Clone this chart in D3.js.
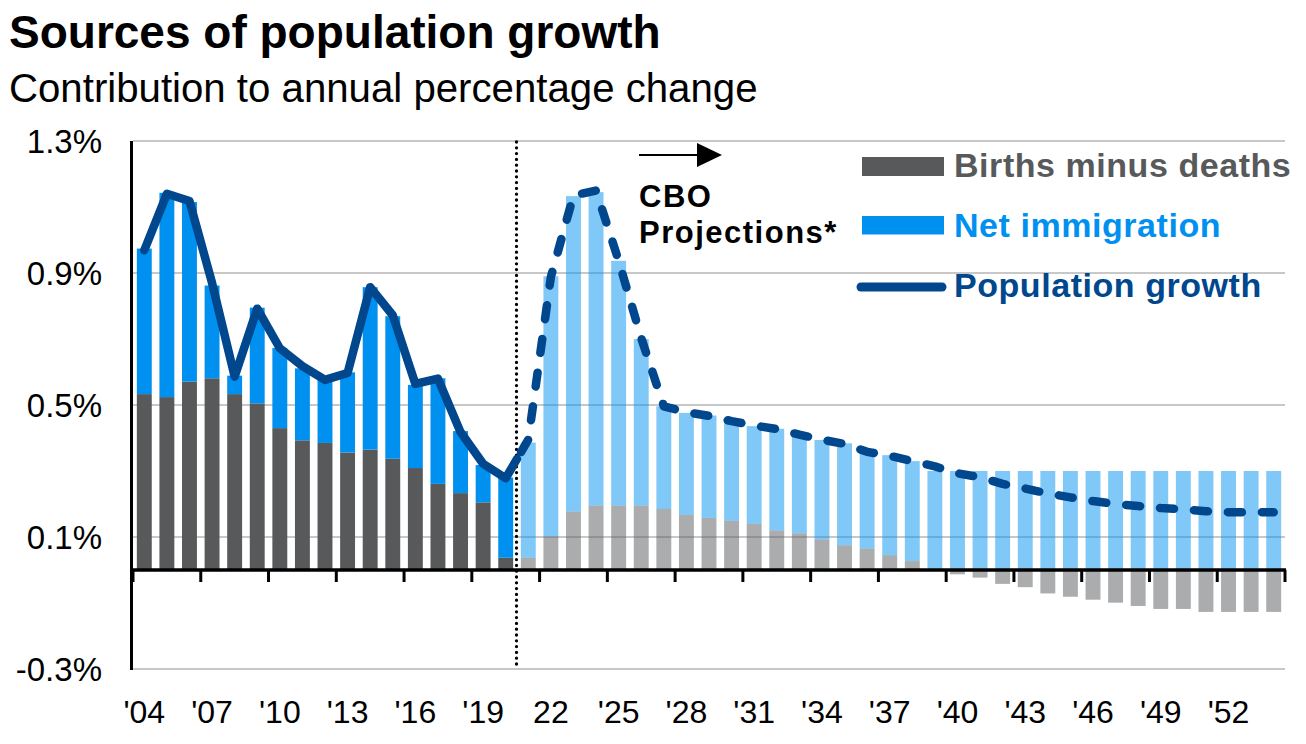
<!DOCTYPE html>
<html><head><meta charset="utf-8">
<script src="https://cdn.jsdelivr.net/npm/d3@7"></script>
<style>
html,body{margin:0;padding:0;background:#fff;}
svg{display:block;font-family:"Liberation Sans",Arial,sans-serif;}
</style></head>
<body>
<svg id="chart" width="1306" height="744"></svg>
<script>
// ---- data ----
const years = d3.range(2004, 2055);
const lastActualYear = 2020;
const birthsMinusDeaths = [
  0.533, 0.524, 0.571, 0.581, 0.533, 0.505, 0.430, 0.393, 0.385, 0.356,
  0.365, 0.337, 0.309, 0.261, 0.233, 0.205, 0.037,
  0.037, 0.102, 0.177, 0.195, 0.195, 0.195, 0.185, 0.167, 0.158, 0.149,
  0.140, 0.120, 0.111, 0.093, 0.075, 0.065, 0.045, 0.027, 0.000,
  -0.013, -0.023, -0.042, -0.052, -0.071, -0.081, -0.090, -0.099, -0.109,
  -0.118, -0.118, -0.127, -0.127, -0.127, -0.127
];
const netImmigration = [
  0.441, 0.619, 0.544, 0.281, 0.056, 0.290, 0.243, 0.218, 0.191, 0.243,
  0.492, 0.432, 0.252, 0.320, 0.188, 0.113, 0.243,
  0.349, 0.788, 0.956, 0.950, 0.742, 0.505, 0.311, 0.309, 0.310, 0.302,
  0.296, 0.308, 0.300, 0.301, 0.309, 0.291, 0.303, 0.303, 0.300,
  0.300, 0.300, 0.300, 0.300, 0.300, 0.300, 0.300, 0.300, 0.300,
  0.300, 0.300, 0.300, 0.300, 0.300, 0.300
];
const populationGrowth = [
  0.969, 1.140, 1.118, 0.870, 0.586, 0.792, 0.672, 0.618, 0.576, 0.597,
  0.857, 0.772, 0.564, 0.580, 0.418, 0.322, 0.278,
  0.395, 0.888, 1.135, 1.150, 0.937, 0.703, 0.496, 0.478, 0.467, 0.451,
  0.438, 0.427, 0.410, 0.395, 0.382, 0.358, 0.346, 0.330, 0.314,
  0.293, 0.281, 0.261, 0.247, 0.232, 0.220, 0.209, 0.200, 0.194,
  0.188, 0.184, 0.178, 0.175, 0.175, 0.175
];
const yTicks = [-0.3, 0.1, 0.5, 0.9, 1.3];
const yTickLabels = ["-0.3%", "0.1%", "0.5%", "0.9%", "1.3%"];
const xTickYears = [2004, 2007, 2010, 2013, 2016, 2019, 2022, 2025, 2028, 2031, 2034, 2037, 2040, 2043, 2046, 2049, 2052];
const xTickLabels = ["'04", "'07", "'10", "'13", "'16", "'19", "22", "'25", "'28", "'31", "'34", "'37", "'40", "'43", "'46", "'49", "'52"];
const seriesNames = ["Births minus deaths", "Net immigration", "Population growth"];

// ---- styles ----
const C_GREY = "#58595B", C_BLUE = "#0091F0", C_LINE = "#00478D", C_GRID = "#C8C8C8";

const svg = d3.select("#chart");
const PL = 133, PR = 1285, PT = 141, PB = 669;

const x = d3.scaleBand().domain(years).range([PL, PR]).paddingInner(0.34).paddingOuter(0.17);
const y = d3.scaleLinear().domain([-0.3, 1.3]).range([PB, PT]);
const step = x.step();
const boundary = yr => x(yr) - step * x.paddingInner() / 2;
const cx = yr => x(yr) + x.bandwidth() / 2;

// title
svg.append("text").attr("x", 9).attr("y", 48).attr("font-size", 46).attr("font-weight", "bold")
  .attr("fill", "#000").text("Sources of population growth");
svg.append("text").attr("x", 9).attr("y", 102).attr("font-size", 40.2)
  .attr("fill", "#000").text("Contribution to annual percentage change");

// gridlines
svg.append("g").selectAll("line").data(yTicks).join("line")
  .attr("x1", PL).attr("x2", PR).attr("y1", d => y(d)).attr("y2", d => y(d))
  .attr("stroke", C_GRID).attr("stroke-width", 2);

// stacked bars
const rows = years.map((yr, i) => ({year: yr, births: birthsMinusDeaths[i], imm: netImmigration[i]}));
const stack = d3.stack().keys(["births", "imm"]).offset(d3.stackOffsetDiverging);
const layers = stack(rows);
const colors = {births: C_GREY, imm: C_BLUE};
svg.append("g").selectAll("g").data(layers).join("g")
  .attr("fill", d => colors[d.key])
  .selectAll("rect").data(d => d).join("rect")
  .attr("x", d => x(d.data.year))
  .attr("width", x.bandwidth())
  .attr("y", d => y(Math.max(d[0], d[1])))
  .attr("height", d => Math.abs(y(d[0]) - y(d[1])))
  .attr("fill-opacity", d => d.data.year > lastActualYear ? 0.5 : 1);

// y axis line
svg.append("line").attr("x1", PL - 1.5).attr("x2", PL - 1.5).attr("y1", PT).attr("y2", PB + 1)
  .attr("stroke", "#000").attr("stroke-width", 3);

// y labels via axis
const yAxis = svg.append("g").attr("transform", `translate(${PL},0)`)
  .call(d3.axisLeft(y).tickValues(yTicks).tickFormat((d, i) => yTickLabels[i]).tickSize(0).tickPadding(31));
yAxis.select(".domain").remove();
yAxis.selectAll("text").attr("font-size", 33).attr("font-family", "Liberation Sans, Arial, sans-serif")
  .attr("fill", "#000").attr("dy", "0.35em");

// x axis at zero
const y0 = y(0);
svg.append("line").attr("x1", PL - 3).attr("x2", PR + 1).attr("y1", y0).attr("y2", y0)
  .attr("stroke", "#000").attr("stroke-width", 3.5);
const tickPos = xTickYears.map(boundary).concat([PR]);
svg.append("g").selectAll("line").data(tickPos).join("line")
  .attr("x1", d => d).attr("x2", d => d).attr("y1", y0).attr("y2", y0 + 12)
  .attr("stroke", "#000").attr("stroke-width", 3);

// x labels via axis
const xAxis = svg.append("g").attr("transform", `translate(0,${PB})`)
  .call(d3.axisBottom(x).tickValues(xTickYears).tickFormat((d, i) => xTickLabels[i]).tickSize(0));
xAxis.select(".domain").remove();
xAxis.selectAll("text").attr("font-size", 32).attr("font-family", "Liberation Sans, Arial, sans-serif")
  .attr("fill", "#000").attr("y", 54).attr("dy", 0);

// divider
const divX = Math.round(boundary(lastActualYear + 1)) - 0.5;
svg.append("line").attr("x1", divX).attr("x2", divX).attr("y1", PT + 1).attr("y2", PB - 1)
  .attr("stroke", "#000").attr("stroke-width", 3.3).attr("stroke-linecap", "round")
  .attr("stroke-dasharray", "0,5.8");

// population growth line
const pts = years.map((yr, i) => [cx(yr), y(populationGrowth[i])]);
const iSplit = years.indexOf(lastActualYear);
const mid = [(pts[iSplit][0] + pts[iSplit + 1][0]) / 2, (pts[iSplit][1] + pts[iSplit + 1][1]) / 2];
const lineGen = d3.line();
svg.append("path").attr("d", lineGen(pts.slice(0, iSplit + 1).concat([mid])))
  .attr("fill", "none").attr("stroke", C_LINE).attr("stroke-width", 8.5)
  .attr("stroke-linejoin", "round").attr("stroke-linecap", "round");
svg.append("path").attr("d", lineGen([mid].concat(pts.slice(iSplit + 1))))
  .attr("fill", "none").attr("stroke", C_LINE).attr("stroke-width", 8.5)
  .attr("stroke-linejoin", "round").attr("stroke-linecap", "round")
  .attr("stroke-dasharray", "14,20").attr("stroke-dashoffset", -8);

// arrow + CBO annotation
svg.append("line").attr("x1", 639).attr("x2", 699).attr("y1", 155).attr("y2", 155)
  .attr("stroke", "#000").attr("stroke-width", 2);
svg.append("path").attr("d", "M697,143 L722,155 L697,167 Z").attr("fill", "#000");
svg.append("text").attr("x", 639).attr("y", 207).attr("font-size", 31).attr("font-weight", "bold")
  .attr("letter-spacing", 1.5).attr("fill", "#000").text("CBO");
svg.append("text").attr("x", 639).attr("y", 243).attr("font-size", 31).attr("font-weight", "bold")
  .attr("letter-spacing", 1.5).attr("fill", "#000").text("Projections*");

// legend
const lg = svg.append("g");
lg.append("rect").attr("x", 862).attr("y", 157).attr("width", 82).attr("height", 19).attr("fill", C_GREY);
lg.append("rect").attr("x", 862).attr("y", 216).attr("width", 82).attr("height", 18.5).attr("fill", C_BLUE);
lg.append("line").attr("x1", 861).attr("x2", 942).attr("y1", 287).attr("y2", 287)
  .attr("stroke", C_LINE).attr("stroke-width", 9).attr("stroke-linecap", "round");
const legendColors = [C_GREY, C_BLUE, C_LINE];
const legendY = [177, 237, 297];
lg.selectAll("text").data(seriesNames).join("text")
  .attr("x", 954).attr("y", (d, i) => legendY[i]).attr("font-size", 34).attr("font-weight", "bold")
  .attr("letter-spacing", 0.55)
  .attr("fill", (d, i) => legendColors[i]).text(d => d);
</script>
</body></html>
